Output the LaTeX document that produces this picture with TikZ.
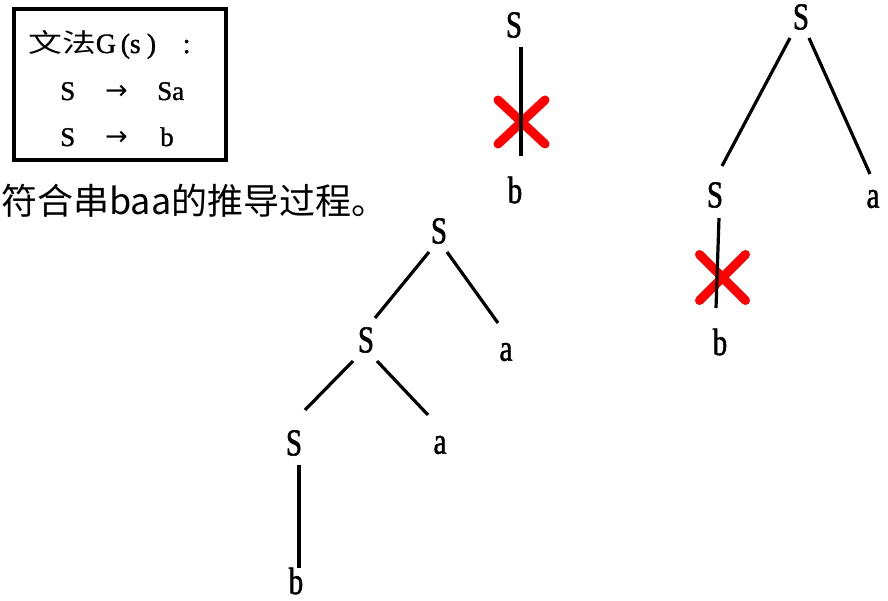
\documentclass[tikz,border=0pt]{standalone}
\usepackage{fontspec}
\setmainfont{Liberation Serif}[FakeBold=1.2]
\newfontfamily\cjk{Noto Sans CJK SC}
\newfontfamily\arrowfont{DejaVu Sans}
\newfontfamily\narrowserif[FakeStretch=0.76,FakeBold=1.4]{Liberation Serif}
\usetikzlibrary{calc}
\tikzset{
  sym/.style={font=\narrowserif\fontsize{38}{40}\selectfont, inner sep=0pt},
  edge/.style={line width=3.2pt},
  cross/.style={draw=red, line width=9pt, line cap=round},
  gbox/.style={draw=black, line width=4pt},
  rule/.style={font=\fontsize{27}{30}\selectfont, inner sep=0pt, anchor=base west},
}
\newcommand{\ra}{{\arrowfont\fontsize{27}{30}\selectfont →}}
\begin{document}
\begin{tikzpicture}[x=1pt,y=-1pt]
\useasboundingbox (0,0) rectangle (888,601);

% grammar box
\draw[gbox] (14,9) rectangle (226,160);
\node[rule] (g0) at (28,53) {{\cjk\scalebox{1.3}[1]{\fontsize{26}{28}\selectfont 文法}}{\fontsize{28}{30}\selectfont\makebox[25pt][l]{G}\makebox[9pt][l]{(}\makebox[17pt][l]{s}\makebox[36pt][l]{)}:}};
\node[rule] (g1) at (60,100) {\makebox[45pt][l]{S}\makebox[52pt][l]{\ra}Sa};
\node[rule] (g2) at (60,146) {\makebox[45pt][l]{S}\makebox[55pt][l]{\ra}b};

% caption
\node[font=\cjk\fontsize{36}{40}\selectfont, inner sep=0pt, anchor=base west] (cap) at (1,215) {符合串baa的推导过程。};

% red crosses
\draw[cross] (498,100) -- (545,144);
\draw[cross] (498,144) -- (545,100);
\draw[cross] (699.5,254.5) -- (745.5,300.5);
\draw[cross] (699.5,300.5) -- (745.5,254.5);

% tree 1
\node[sym] (t1S) at (514,25) {S};
\node[sym] (t1b) at (515,190) {b};
\draw[edge] ($(t1S)+(7,22)$) -- ($(t1b)+(6,-34)$);

% tree 2
\node[sym] (t2S) at (801,17) {S};
\node[sym] (t2Sl) at (715,195) {S};
\node[sym] (t2a) at (873,199) {a};
\node[sym] (t2b) at (720,342) {b};
\draw[edge] ($(t2S)+(-11,21)$) -- ($(t2Sl)+(7,-29)$);
\draw[edge] ($(t2S)+(8,21)$) -- ($(t2a)+(-3,-25)$);
\draw[edge] ($(t2Sl)+(4,23)$) -- ($(t2b)+(-4,-34)$);

% tree 3
\node[sym] (t3S) at (439,231) {S};
\node[sym] (t3Sl) at (366,340) {S};
\node[sym] (t3a) at (506,352) {a};
\node[sym] (t3Sll) at (294,443) {S};
\node[sym] (t3al) at (440,445) {a};
\node[sym] (t3b) at (296,581) {b};
\draw[edge] ($(t3S)+(-10,21)$) -- ($(t3Sl)+(9,-22)$);
\draw[edge] ($(t3S)+(8,21)$) -- ($(t3a)+(-8,-29)$);
\draw[edge] ($(t3Sl)+(-13,21)$) -- ($(t3Sll)+(11,-33)$);
\draw[edge] ($(t3Sl)+(11,21)$) -- ($(t3al)+(-12,-30)$);
\draw[edge] ($(t3Sll)+(5,22)$) -- ($(t3b)+(3,-13)$);
\end{tikzpicture}
\end{document}
